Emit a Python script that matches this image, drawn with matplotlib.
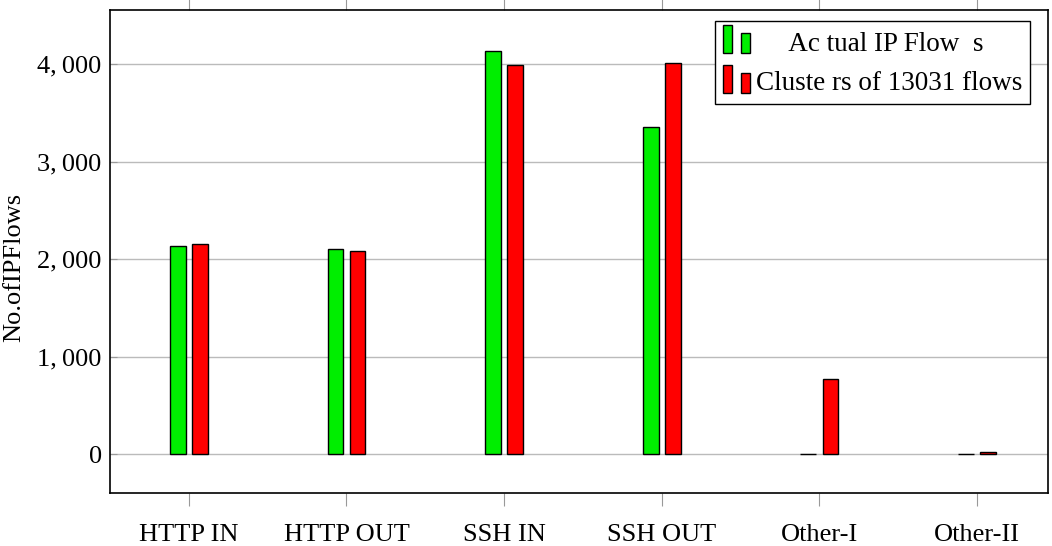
import matplotlib

matplotlib.use("Agg")
import matplotlib.pyplot as plt
import numpy as np
from matplotlib.legend_handler import HandlerBase
from matplotlib.patches import Rectangle
from matplotlib.ticker import FuncFormatter

plt.rcParams["font.family"] = ["Liberation Serif", "DejaVu Serif"]

categories = ["HTTP IN", "HTTP OUT", "SSH IN", "SSH OUT", "Other-I", "Other-II"]
actual_flows = [2130, 2105, 4135, 3355, 5, 5]
cluster_flows = [2155, 2085, 3990, 4010, 770, 25]
legend_labels = ["     Ac tual IP Flow  s", "Cluste rs of 13031 flows"]

GREEN = "#00ee00"
RED = "#ff0000"
FS = 19


class TwoBarHandler(HandlerBase):
    # pgfplots-style ybar legend image: two small bars
    def create_artists(self, legend, orig_handle, xdescent, ydescent, width, height, fontsize, trans):
        fc = orig_handle.get_facecolor()
        h = height * 1.15
        y0 = -ydescent
        r1 = Rectangle((-xdescent, y0), width * 0.32, h, facecolor=fc, edgecolor="black", lw=1, transform=trans)
        r2 = Rectangle((-xdescent + width * 0.68, y0), width * 0.32, h * 0.72, facecolor=fc, edgecolor="black", lw=1, transform=trans)
        return [r1, r2]


def main() -> None:
    fig = plt.figure(figsize=(10.52, 5.46), dpi=100)
    ax = fig.add_axes([110 / 1052, 1 - 493 / 546, 938 / 1052, 483 / 546])

    x = np.arange(len(categories))
    w = 0.1
    off = 0.07
    b1 = ax.bar(x - off, actual_flows, width=w, color=GREEN, edgecolor="black", lw=1, zorder=3)
    b2 = ax.bar(x + off, cluster_flows, width=w, color=RED, edgecolor="black", lw=1, zorder=3)

    ax.set_xlim(-0.5, 5.45)
    ax.set_ylim(-400, 4554)
    ax.set_yticks([0, 1000, 2000, 3000, 4000])
    ax.yaxis.set_major_formatter(FuncFormatter(lambda v, p: "0" if v == 0 else f"{int(v) // 1000},\u2009{int(v) % 1000:03d}"))
    ax.set_xticks(x)
    ax.set_xticklabels(categories)
    ax.grid(axis="y", color="#bbbbbb", lw=1, zorder=0)

    ax.tick_params(axis="x", direction="out", length=9, color="#999999", top=True, labelsize=FS, pad=13)
    ax.tick_params(axis="y", direction="in", length=5, color="#999999", labelsize=FS, pad=6)
    for s in ax.spines.values():
        s.set_linewidth(1.2)

    ax.set_ylabel("No.ofIPFlows", fontsize=FS)
    ax.yaxis.set_label_coords(-0.09, 0.466)

    leg = ax.legend(
        [b1.patches[0], b2.patches[0]],
        legend_labels,
        handler_map={Rectangle: TwoBarHandler()},
        loc="upper right",
        bbox_to_anchor=(1 - 18 / 938, 1 - 11 / 483),
        fontsize=19.5,
        frameon=True,
        fancybox=False,
        edgecolor="black",
        framealpha=1,
        handlelength=1.0,
        handleheight=1.0,
        handletextpad=0.2,
        borderpad=0.3,
        labelspacing=0.45,
        borderaxespad=0,
    )
    leg.get_frame().set_linewidth(1)

    fig.savefig("out.png", dpi=100)
    plt.close(fig)


if __name__ == "__main__":
    main()
